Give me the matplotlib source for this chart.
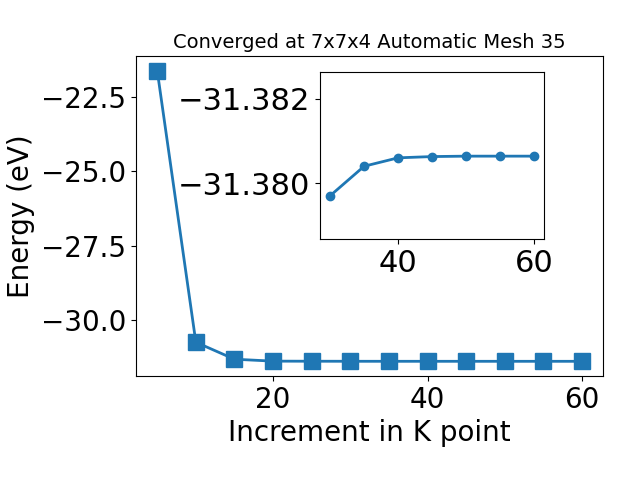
import matplotlib
matplotlib.use("Agg")
import matplotlib.pyplot as plt

# k-point increments and total energies (eV)
kpoints = [5, 10, 15, 20, 25, 30, 35, 40, 45, 50, 55, 60]
energy = [-21.62, -30.74, -31.31, -31.375, -31.378, -31.3797, -31.3804,
          -31.3806, -31.38063, -31.38064, -31.38064, -31.38064]

# zoomed tail shown in the inset
k_zoom = kpoints[5:]
e_zoom = energy[5:]

fig = plt.figure(figsize=(6.4, 4.8))
ax = fig.add_axes([0.2125, 0.217, 0.73, 0.666])
ax.plot(kpoints, energy, marker="s", markersize=11, linewidth=2, color="#1f77b4")
ax.set_xlabel("Increment in K point", fontsize=20)
ax.set_ylabel("Energy (eV)", fontsize=20)
ax.set_title("Converged at 7x7x4 Automatic Mesh 35", fontsize=14)
ax.tick_params(labelsize=20)

ins = fig.add_axes([0.5, 0.502, 0.35, 0.348])
ins.plot(k_zoom, e_zoom, marker="o", markersize=6, linewidth=2, color="#1f77b4")
ins.set_ylim(-31.37867, -31.38264)
ins.set_yticks([-31.382, -31.380])
ins.set_xticks([40, 60])
ins.tick_params(labelsize=22)

fig.savefig("out.png", dpi=100)
